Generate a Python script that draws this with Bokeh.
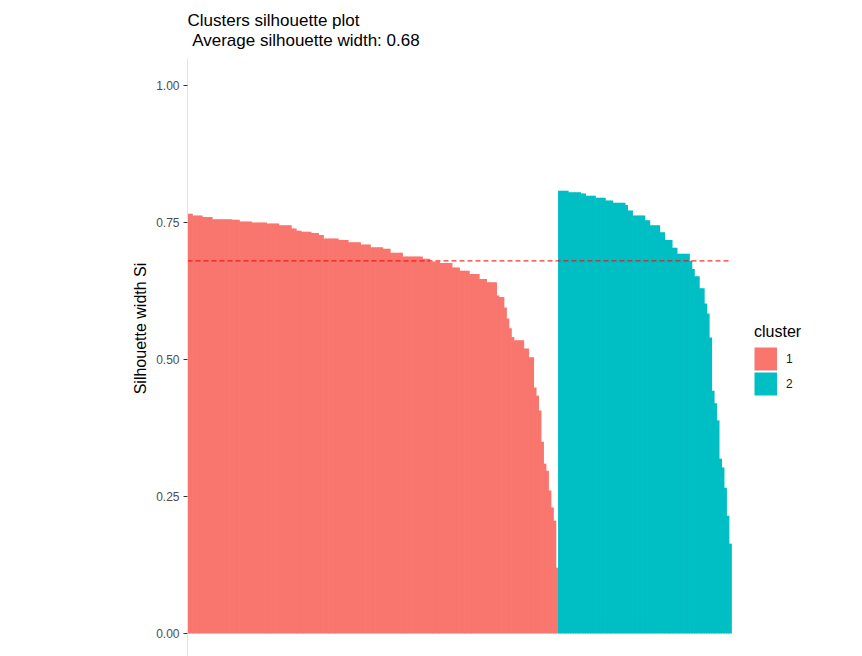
from bokeh.plotting import figure
from bokeh.models import (Range1d, FixedTicker, Legend, LegendItem, Label,
                          ColumnDataSource, NumeralTickFormatter)
from bokeh.embed import file_html
from bokeh.resources import INLINE

# ---------------- data ----------------
cluster1_si = [
    0.766, 0.766,
    0.763, 0.763, 0.763, 0.763,
    0.760, 0.760, 0.760, 0.760,
    0.756, 0.756, 0.756, 0.756, 0.756, 0.756, 0.756, 0.756,
    0.755, 0.755, 0.755,
    0.752, 0.752, 0.752, 0.752, 0.752,
    0.750, 0.750, 0.750, 0.750, 0.750, 0.750,
    0.748, 0.748, 0.748, 0.748, 0.748,
    0.745, 0.745, 0.745, 0.745, 0.745,
    0.739, 0.739,
    0.735, 0.735,
    0.733, 0.733, 0.733, 0.733,
    0.731, 0.731, 0.731,
    0.727, 0.727,
    0.721, 0.721, 0.721, 0.721, 0.721, 0.721,
    0.718, 0.718, 0.718, 0.718,
    0.714, 0.714, 0.714, 0.714, 0.714,
    0.710, 0.710, 0.710, 0.710,
    0.705, 0.705, 0.705, 0.705, 0.705,
    0.702, 0.702, 0.702,
    0.695, 0.695, 0.695, 0.695, 0.695,
    0.688, 0.688, 0.688, 0.688, 0.688, 0.688, 0.688, 0.688,
    0.684, 0.684, 0.684,
    0.679, 0.679, 0.679, 0.679,
    0.676, 0.676, 0.676, 0.676, 0.676,
    0.668, 0.668, 0.668,
    0.662, 0.662, 0.662, 0.662,
    0.656, 0.656, 0.656, 0.656,
    0.647, 0.647, 0.647,
    0.641, 0.641, 0.641, 0.641,
    0.617,
    0.614, 0.614,
    0.595, 0.575, 0.557, 0.541,
    0.535, 0.535, 0.535, 0.535,
    0.520, 0.520,
    0.504, 0.504,
    0.449, 0.434, 0.407, 0.350, 0.310, 0.297, 0.261, 0.230, 0.206, 0.120,
]

cluster2_si = [
    0.808, 0.808, 0.808, 0.808,
    0.805, 0.805, 0.805, 0.805, 0.805,
    0.803, 0.803,
    0.799, 0.799, 0.799, 0.799,
    0.795, 0.795, 0.795, 0.795,
    0.790, 0.790, 0.790,
    0.786, 0.786, 0.786, 0.786, 0.786,
    0.782,
    0.772, 0.772,
    0.763, 0.763, 0.763, 0.763, 0.763,
    0.754, 0.754,
    0.745, 0.745, 0.745, 0.745,
    0.732, 0.732,
    0.718, 0.718, 0.718,
    0.704, 0.704,
    0.693, 0.693, 0.693, 0.693, 0.693,
    0.680, 0.665,
    0.652, 0.652,
    0.630, 0.630,
    0.602, 0.584, 0.540, 0.443, 0.420, 0.389, 0.319, 0.303, 0.266, 0.215, 0.164,
]

cluster_labels = ["1", "2"]
cluster_colors = ["#F8766D", "#00BFC4"]
avg_silhouette = 0.68
y_ticks = [0.0, 0.25, 0.5, 0.75, 1.0]
y_tick_labels = ["0.00", "0.25", "0.50", "0.75", "1.00"]
title_line1 = "Clusters silhouette plot"
title_line2 = " Average silhouette width: 0.68"
y_title = "Silhouette width Si"
legend_title = "cluster"

# ---------------- layout ----------------
W, H = 862, 656
LEFT = 187                 # frame left (px)
BARS_PX = 544              # width covered by all bars
ZERO_PX = 633              # y=0 from top of page
PX_PER_UNIT = 548

n1, n2 = len(cluster1_si), len(cluster2_si)
n = n1 + n2
px_per_obs = BARS_PX / n
x_end = (W - LEFT) / px_per_obs
y_end = ZERO_PX / PX_PER_UNIT
y_start = -(H - ZERO_PX) / PX_PER_UNIT


def y_from_top(px):
    return (ZERO_PX - px) / PX_PER_UNIT


p = figure(width=W, height=H, output_backend="svg", toolbar_location=None,
           title=None, x_range=Range1d(0, x_end), y_range=Range1d(y_start, y_end),
           x_axis_location=None, min_border_left=LEFT, min_border_right=0,
           min_border_top=0, min_border_bottom=0)
p.outline_line_color = None
p.grid.visible = False
p.background_fill_color = "white"
p.border_fill_color = "white"

src1 = ColumnDataSource(dict(x=[i + 0.5 for i in range(n1)], top=cluster1_si))
src2 = ColumnDataSource(dict(x=[n1 + i + 0.5 for i in range(n2)], top=cluster2_si))
r1 = p.vbar(x="x", top="top", bottom=0, width=1.3, source=src1,
            fill_color=cluster_colors[0], line_color=None)
r2 = p.vbar(x="x", top="top", bottom=0, width=1.3, source=src2,
            fill_color=cluster_colors[1], line_color=None)

# legend keys: square swatches (thick butt-capped strokes; NaN data draws nothing on the plot)
nan = float("nan")
key1 = p.line(x=[nan], y=[nan], line_color=cluster_colors[0], line_width=23, line_cap="butt")
key2 = p.line(x=[nan], y=[nan], line_color=cluster_colors[1], line_width=23, line_cap="butt")

p.line([0, n], [avg_silhouette, avg_silhouette], line_color="#FF0000",
       line_dash="5 3", line_width=1.1, line_alpha=0.8)

ax = p.yaxis[0]
ax.ticker = FixedTicker(ticks=y_ticks)
ax.formatter = NumeralTickFormatter(format="0.00")
ax.major_label_overrides = {t: l for t, l in zip(y_ticks, y_tick_labels)}
ax.bounds = (-0.05, 1.05)
ax.axis_line_color = "#E3E3E3"
ax.axis_line_width = 1
ax.major_tick_line_color = "#333333"
ax.major_tick_out = 4
ax.major_tick_in = 0
ax.minor_tick_out = 0
ax.minor_tick_in = 0
ax.major_label_text_font = "Liberation Sans"
ax.major_label_text_font_size = "12px"
ax.major_label_text_color = "#4D4D4D"
ax.major_label_standoff = 4
ax.axis_label = y_title
ax.axis_label_text_font = "Liberation Sans"
ax.axis_label_text_font_size = "16px"
ax.axis_label_text_font_style = "normal"
ax.axis_label_text_color = "#000000"
ax.axis_label_standoff = 4

p.add_layout(Label(x=0, y=y_from_top(19.7), text=title_line1,
                   text_font="Liberation Sans", text_font_size="17px",
                   text_color="#000000", text_baseline="alphabetic"))
p.add_layout(Label(x=0, y=y_from_top(39.7), text=title_line2, x_offset=4.7,
                   text_font="Liberation Sans", text_font_size="17px",
                   text_color="#000000", text_baseline="alphabetic"))

legend = Legend(items=[LegendItem(label=cluster_labels[0], renderers=[key1]),
                       LegendItem(label=cluster_labels[1], renderers=[key2])],
                location=(567, 260), title=legend_title,
                title_text_font="Liberation Sans", title_text_font_size="16px",
                title_text_font_style="normal", title_text_color="#000000",
                title_standoff=5,
                label_text_font="Liberation Sans", label_text_font_size="12px",
                label_text_color="#1A1A1A", label_standoff=9,
                glyph_width=23, glyph_height=25, spacing=0,
                padding=0, margin=0, border_line_color=None,
                background_fill_alpha=0)
p.add_layout(legend)

open("out.html", "w").write(file_html(p, INLINE))
